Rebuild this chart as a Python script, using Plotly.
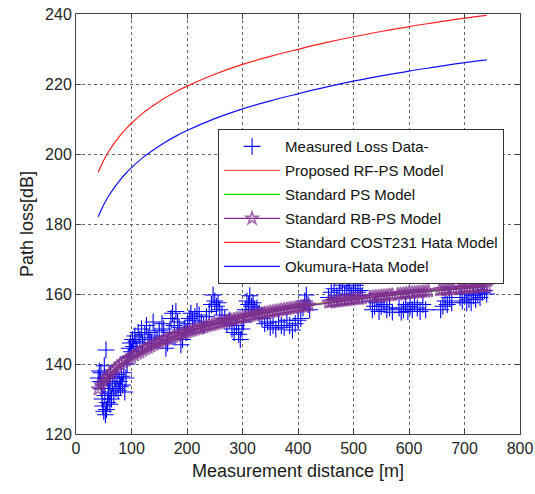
import plotly.graph_objects as go

meas_d = [40,42,44,45,46,47,48,49,50,51,52,53,54,55,56,57,58,59,60,61,62,63,64,66,68,70,72,74,76,78,
          80,82,84,86,88,90,92,94,96,98,100,102,104,106,108,110,112,115,118,120,124,127,130,133,136,139,142,146,
          150,155,158,162,165,168,171,174,177,180,183,186,189,192,195,198,201,204,207,210,214,218,222,226,230,
          235,240,244,247,250,253,256,259,263,268,272,277,281,285,289,293,296,299,302,305,308,311,313,316,319,
          322,326,330,335,340,345,350,355,360,365,370,375,380,385,390,395,400,405,409,412,415,418,421,
          455,460,465,470,475,480,484,488,492,496,500,504,508,512,516,
          530,534,538,542,546,550,555,560,565,570,
          582,586,590,594,598,602,606,610,615,620,625,630,
          657,661,665,669,673,677,
          692,696,700,704,708,712,716,720,724,728,732,736,740]
meas_loss = [136,138,135,137.5,133,130,128,134,126.5,139.5,131,125.5,144,127,136,129,133,131.5,135,128.5,137,132,130,134.5,131,136,133,137,132.5,135,
             133.5,136.5,134,137.5,132,136,140,142,144.5,146,143.5,147,145,148,146.5,144,149,147,150,146,148.5,151,147.5,149,146,152,148,147,
             149.5,151.5,150,144.5,146,149,153,154.5,151,155,152,150.5,145.5,147,150,149,151.5,153,154.5,152.5,153.5,155,154,152,151,
             153.5,155,157,159.7,158,156.5,157.5,155.5,154,153,151.5,152.5,150,149,151,148.5,147,150,152,155.5,158,157,159.5,156.5,157.5,
             155.5,156,154.5,153,151.5,152,150.5,151,150,152,151,150.5,152.5,151,149.7,151.5,152.5,153,156,158,159.7,157,155.5,
             159,160.5,161.5,159.5,161,162.5,160,162,161,159.5,161.5,162.5,160.5,161,159.5,
             158,155.5,156.5,157.5,155,156.5,157,155.5,156,154.8,
             156,154.8,155.5,157,155,156.5,155.5,157.5,156,155,157,155.5,
             155.5,156.5,158,157,159,157.5,
             159,158,160,157.5,158.5,157.5,159.5,158.5,160,159,160.5,161,160]

# ---- Standard RB-PS model (5 m steps) ----
rbps_d = list(range(40, 745, 5))
rbps_loss = [132.8,134.0,135.0,136.0,136.9,137.7,138.5,139.2,139.9,140.5,141.0,141.5,142.0,142.5,143.0,143.4,
             143.9,144.3,144.7,145.1,145.5,145.9,146.2,146.6,146.9,147.2,147.5,147.8,148.1,148.3,148.6,148.9,
             149.1,149.4,149.6,149.9,150.1,150.3,150.5,150.8,151.0,151.2,151.4,151.6,151.8,152.0,152.2,152.4,
             152.6,152.8,153.0,153.1,153.3,153.5,153.6,153.8,154.0,154.1,154.3,154.4,154.6,154.7,154.9,155.0,
             155.2,155.3,155.5,155.6,155.7,155.9,156.0,156.1,156.3,156.4,156.5,156.6,156.8,156.9,157.0,157.1,
             157.2,157.3,157.5,157.6,157.7,157.8,157.9,158.0,158.1,158.2,158.3,158.4,158.5,158.6,158.7,158.8,
             158.9,159.0,159.1,159.2,159.3,159.35,159.4,159.5,159.6,159.7,159.8,159.85,159.9,160.0,160.1,160.2,
             160.3,160.35,160.4,160.5,160.6,160.65,160.7,160.8,160.9,160.95,161.0,161.1,161.15,161.2,161.3,161.35,
             161.4,161.5,161.55,161.6,161.7,161.75,161.8,161.85,161.9,162.0,162.05,162.1,162.2]
# distance ranges without measurements (no star markers there)
star_gaps = [(423, 452), (518, 527), (573, 578), (638, 652), (683, 688)]

# ---- Proposed RF-PS and Standard PS models (lie under the RB-PS band) ----
model_d = [40,60,80,100,150,200,250,300,350,400,450,500,550,600,650,700,740]
rfps_loss = [133.0,137.0,140.0,142.2,146.4,149.3,151.5,153.4,155.0,156.4,157.6,158.6,159.5,160.4,161.1,161.8,162.3]
ps_loss   = [132.6,136.8,139.8,141.9,146.1,149.0,151.3,153.2,154.8,156.2,157.4,158.4,159.3,160.2,160.9,161.6,162.1]

# ---- COST231 Hata and Okumura-Hata models ----
hata_d = [40,50,60,70,80,90,100,120,140,160,180,200,250,300,350,400,450,500,550,600,650,700,740]
cost231_loss = [194.8,198.2,201.0,203.3,205.4,207.2,208.8,211.6,213.9,216.0,217.8,219.4,222.8,225.6,227.9,
                229.9,231.8,233.5,235.0,236.4,237.6,238.8,239.6]
okumura_loss = [182.1,185.5,188.3,190.6,192.7,194.5,196.1,198.9,201.2,203.3,205.1,206.7,210.1,212.9,215.2,
                217.2,219.1,220.8,222.3,223.7,224.9,226.1,226.9]

PURPLE = "#7E2F8E"
star_sizes = [0 if any(a <= d <= b for a, b in star_gaps) else 10 for d in rbps_d]

fig = go.Figure()
fig.add_trace(go.Scatter(x=meas_d, y=meas_loss, mode="markers", name="Measured Loss Data-",
                         legendgroup="a",
                         marker=dict(symbol="cross-thin", size=12, line=dict(color="#0000FF", width=1.1),
                                     color="#0000FF")))
fig.add_trace(go.Scatter(x=model_d, y=rfps_loss, mode="lines", name="Proposed RF-PS Model",
                         legendgroup="b", line=dict(color="#FF5A5A", width=1.2, shape="spline")))
fig.add_trace(go.Scatter(x=model_d, y=ps_loss, mode="lines", name="Standard PS Model",
                         legendgroup="c", line=dict(color="#00E000", width=1.2, shape="spline")))
fig.add_trace(go.Scatter(x=rbps_d, y=rbps_loss, mode="lines+markers", name="Standard RB-PS Model",
                         legendgroup="d",
                         line=dict(color=PURPLE, width=1.2),
                         marker=dict(symbol="star-open", size=star_sizes, color=PURPLE,
                                     line=dict(color=PURPLE, width=1.7))))
fig.add_trace(go.Scatter(x=hata_d, y=cost231_loss, mode="lines", name="Standard COST231 Hata Model",
                         legendgroup="e", line=dict(color="#FF2020", width=1.2, shape="spline")))
fig.add_trace(go.Scatter(x=hata_d, y=okumura_loss, mode="lines", name="Okumura-Hata Model",
                         legendgroup="f", line=dict(color="#1010FF", width=1.2, shape="spline")))

axis_common = dict(showline=True, linecolor="#444444", linewidth=1, mirror="ticks",
                   ticks="inside", ticklen=5, tickcolor="#444444",
                   showgrid=True, gridcolor="#666666", griddash="dot", gridwidth=1,
                   zeroline=False, automargin=False, tickfont=dict(size=16, color="#262626"))
fig.update_xaxes(range=[0, 800], dtick=100, tick0=0,
                 title=dict(text="Measurement distance [m]", font=dict(size=18, color="#1a1a1a"), standoff=8),
                 **axis_common)
fig.update_yaxes(range=[120, 240], dtick=20, tick0=120,
                 title=dict(text="Path loss[dB]", font=dict(size=18, color="#1a1a1a"), standoff=6),
                 **axis_common)

fig.update_layout(
    width=535, height=494,
    margin=dict(l=76, r=15, t=14, b=60),
    paper_bgcolor="white", plot_bgcolor="white",
    font=dict(family="Liberation Sans, Arial, sans-serif", color="#262626"),
    legend=dict(x=0.32, y=0.726, xanchor="left", yanchor="top",
                bgcolor="white", bordercolor="#333333", borderwidth=1,
                font=dict(size=15, color="#111111"), itemwidth=56,
                tracegroupgap=1.5),
    showlegend=True,
)

fig.write_html("out.html", config={"displayModeBar": False},
               post_script="document.body.style.margin='0px';")
